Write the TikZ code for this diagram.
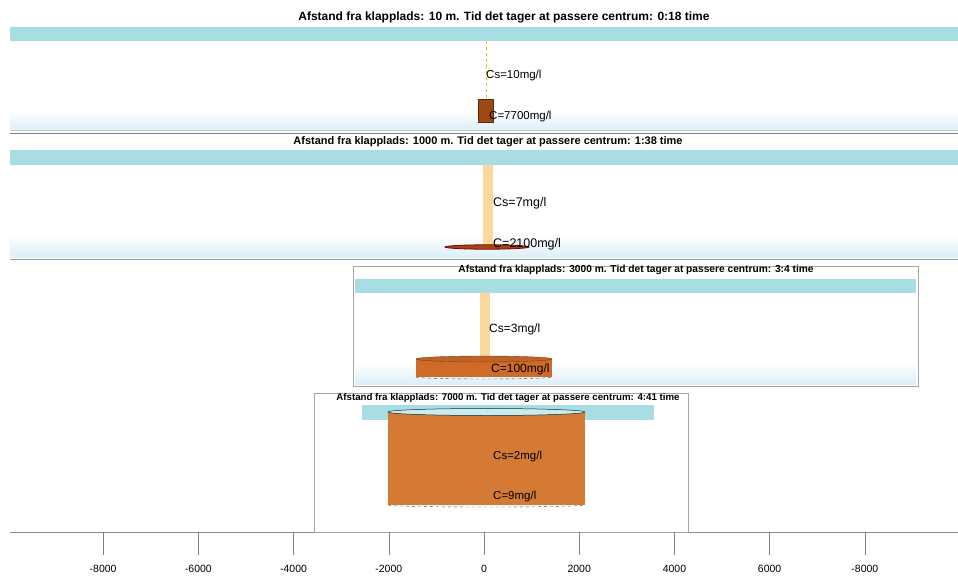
\documentclass[tikz,border=0pt]{standalone}
\usepackage{fontspec}
\setmainfont{Liberation Sans}

\definecolor{water}{HTML}{A9DDE4}
\definecolor{bedblue}{HTML}{DCEFF8}
\definecolor{plume}{HTML}{FBD89C}
\definecolor{plumeline}{HTML}{E2C400}
\definecolor{mud}{HTML}{9B4A14}
\definecolor{mudorange}{HTML}{D06A28}
\definecolor{mudlight}{HTML}{D47A34}

\begin{document}
\begin{tikzpicture}[
    x=1pt, y=-1pt,
    title/.style = {font=\bfseries\fontsize{#1}{#1}\selectfont, inner sep=0pt},
    conc/.style = {anchor=west, inner sep=0pt, font=\fontsize{#1}{#1}\selectfont},
    band/.style = {fill=water, draw=none},
    bed/.style = {top color=white, bottom color=bedblue, draw=none},
    frame/.style = {draw=black!35, line width=0.7pt},
    tickmark/.style = {draw=black!50, line width=0.5pt},
    ticklabel/.style = {font=\fontsize{10.5}{10.5}\selectfont, inner sep=0pt},
]

% Canvas
\useasboundingbox[fill=white] (0,0) rectangle (958,576);

% Panel 1: 10 m
\shade[bed] (10,110) rectangle (958,130);
\fill[band] (10,27) rectangle (958,41);
\draw[plumeline, dashed, line width=0.8pt] (486,41) -- (486,99);
\draw[draw=mud!60!black, fill=mud, line width=0.4pt] (478,99) rectangle (493,122);
\node[title=12] (title1) at (504,17) {Afstand fra klapplads: 10 m. Tid det tager at passere centrum: 0:18 time};
\node[conc=11.5] (cs1) at (486,76) {Cs=10mg/l};
\node[conc=11.5] (c1) at (489,117) {C=7700mg/l};
\draw[black!20, line width=1pt] (10,130) -- (958,130);
\draw[black!50, line width=0.6pt] (10,133.5) -- (958,133.5);

% Panel 2: 1000 m
\shade[bed] (10,234) rectangle (958,257);
\fill[band] (10,150) rectangle (958,165);
\fill[plume] (483,165) rectangle (493,247);
\draw[fill=mud!90!red, draw=red!50!black, line width=0.8pt] (487,247) ellipse [x radius=42, y radius=2.2];
\node[title=11] (title2) at (488,142) {Afstand fra klapplads: 1000 m. Tid det tager at passere centrum: 1:38 time};
\node[conc=12.5] (cs2) at (493,203) {Cs=7mg/l};
\node[conc=12.5] (c2) at (493,244) {C=2100mg/l};
\draw[black!40, line width=0.8pt] (10,259.5) -- (958,259.5);

% Panel 3: 3000 m
\draw[frame, fill=white] (353,266) rectangle (918,386);
\shade[bed] (355,362) rectangle (916,384);
\fill[band] (355,279) rectangle (916,293);
\fill[plume] (480,293) rectangle (490,358);
\fill[mudorange] (416,359) rectangle (552,377);
\draw[dashed, black!70, line width=0.4pt] (416,377) arc [start angle=180, end angle=0, x radius=68, y radius=2];
\draw[draw=mudorange!60!black, fill=mudorange!92!black, line width=0.4pt] (484,359) ellipse [x radius=68, y radius=3];
\node[title=10.2] (title3) at (636,270) {Afstand fra klapplads: 3000 m. Tid det tager at passere centrum: 3:4 time};
\node[conc=12] (cs3) at (489,329) {Cs=3mg/l};
\node[conc=12] (c3) at (491,369) {C=100mg/l};

% Panel 4: 7000 m
\draw[frame, fill=white] (314,393) rectangle (688,532);
\fill[band] (362,405) rectangle (654,420);
\fill[mudlight] (388,412) rectangle (585,505);
\draw[dashed, black!70, line width=0.4pt] (388,505) arc [start angle=180, end angle=0, x radius=98.5, y radius=2];
\draw[draw=black!60!teal, fill=water!60!white, line width=0.5pt] (486.5,412) ellipse [x radius=98.5, y radius=3.5];
\node[title=9.7] (title4) at (508,398) {Afstand fra klapplads: 7000 m. Tid det tager at passere centrum: 4:41 time};
\node[conc=11.5] (cs4) at (493,457) {Cs=2mg/l};
\node[conc=11.5] (c4) at (493,497) {C=9mg/l};

% Distance axis
\draw[black!45, line width=0.6pt] (10,532) -- (314,532) (688,532) -- (958,532);
\foreach \v/\txt in {-8000/-8000, -6000/-6000, -4000/-4000, -2000/-2000, 0/0, 2000/2000, 4000/4000, 6000/6000, 8000/-8000} {
    \draw[tickmark] ({484+0.0476*\v},532) -- ++(0,23);
    \node[ticklabel] (tick\v) at ({484+0.0476*\v},569) {\txt};
}

\end{tikzpicture}
\end{document}
